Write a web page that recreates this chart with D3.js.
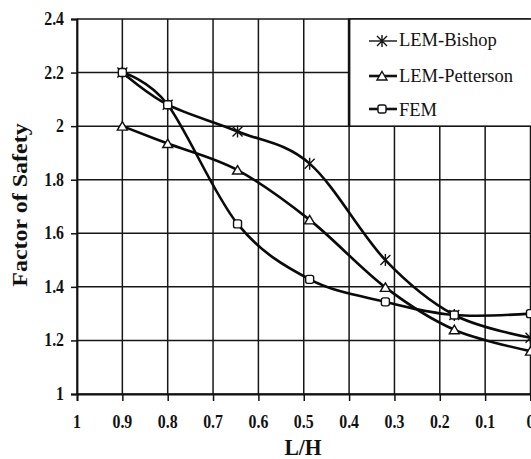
<!DOCTYPE html>
<html>
<head>
<meta charset="utf-8">
<script src="https://cdn.jsdelivr.net/npm/d3@7/dist/d3.min.js"></script>
<style>
  html, body { margin: 0; padding: 0; background: #fff; overflow: hidden; }
  svg { display: block; }
</style>
</head>
<body>
<svg id="chart" width="531" height="459" font-family="'Liberation Serif', 'Times New Roman', 'DejaVu Serif', serif"></svg>
<script>
// Slope factor of safety against the ratio L/H
const lhValues = [0.9, 0.8, 0.646, 0.487, 0.32, 0.168, 0];
const bishop = [2.20, 2.08, 1.98, 1.86, 1.50, 1.295, 1.21];
const petterson = [2.00, 1.935, 1.836, 1.65, 1.398, 1.24, 1.16];
const fem = [2.20, 2.08, 1.635, 1.428, 1.344, 1.295, 1.30];

const xTicks = [1, 0.9, 0.8, 0.7, 0.6, 0.5, 0.4, 0.3, 0.2, 0.1, 0];
const yTicks = [1, 1.2, 1.4, 1.6, 1.8, 2, 2.2, 2.4];

const seriesNames = ["LEM-Bishop", "LEM-Petterson", "FEM"];
const seriesValues = [bishop, petterson, fem];
const seriesMarkers = ["asterisk", "triangle", "square"];

const FONT = "'Liberation Serif', 'Times New Roman', 'DejaVu Serif', serif";

const svg = d3.select("#chart");
const x = d3.scaleLinear().domain([1, 0]).range([77, 530.5]);
const y = d3.scaleLinear().domain([1, 2.4]).range([394, 19]);
const fmt = d => String(d);

// grid
const grid = svg.append("g").attr("stroke", "#161616").attr("stroke-width", 1.5);
grid.selectAll("line.v").data(xTicks).join("line")
  .attr("x1", d => x(d)).attr("x2", d => x(d))
  .attr("y1", y(2.4)).attr("y2", y(1));
grid.selectAll("line.h").data(yTicks).join("line")
  .attr("x1", x(1)).attr("x2", x(0))
  .attr("y1", d => y(d)).attr("y2", d => y(d));

// axes with outward ticks
const xAxis = svg.append("g").attr("transform", `translate(0,${y(1)})`)
  .call(d3.axisBottom(x).tickValues(xTicks).tickSize(7).tickFormat(""));
const yAxis = svg.append("g").attr("transform", `translate(${x(1)},0)`)
  .call(d3.axisLeft(y).tickValues(yTicks).tickSize(6).tickFormat(""));
[xAxis, yAxis].forEach(a => {
  a.select(".domain").attr("stroke", "#111").attr("stroke-width", 1.8);
  a.selectAll(".tick line").attr("stroke", "#111").attr("stroke-width", 1.5);
});

// tick labels
svg.append("g").selectAll("text").data(xTicks).join("text")
  .attr("transform", d => `translate(${x(d)},428) scale(0.88,1)`)
  .attr("text-anchor", "middle")
  .attr("font-family", FONT).attr("fill", "#111")
  .attr("font-size", 18).attr("font-weight", "bold")
  .text(fmt);
svg.append("g").selectAll("text").data(yTicks).join("text")
  .attr("transform", d => `translate(64,${y(d) + 6}) scale(0.88,1)`)
  .attr("text-anchor", "end")
  .attr("font-family", FONT).attr("fill", "#111")
  .attr("font-size", 18).attr("font-weight", "bold")
  .text(fmt);

// axis titles
svg.append("text")
  .attr("transform", "translate(303,455) scale(0.9,1)")
  .attr("text-anchor", "middle")
  .attr("font-family", FONT).attr("fill", "#111")
  .attr("font-size", 24).attr("font-weight", "bold")
  .text("L/H");
svg.append("text")
  .attr("transform", "translate(27,205) rotate(-90) scale(1,0.85)")
  .attr("text-anchor", "middle")
  .attr("font-family", FONT).attr("fill", "#111")
  .attr("font-size", 24).attr("font-weight", "bold")
  .text("Factor of Safety");

// marker shapes
function drawMarker(g, type) {
  if (type === "asterisk") {
    g.append("path")
      .attr("d", "M0,-6V6M-5,-5L5,5M-5,5L5,-5")
      .attr("stroke", "#111").attr("stroke-width", 1.4).attr("fill", "none");
  } else if (type === "triangle") {
    g.append("path")
      .attr("d", "M0,-4.5L5,4L-5,4Z")
      .attr("stroke", "#111").attr("stroke-width", 1.4).attr("fill", "#fff");
  } else {
    g.append("rect")
      .attr("x", -4).attr("y", -4).attr("width", 8).attr("height", 8).attr("rx", 2)
      .attr("stroke", "#111").attr("stroke-width", 1.4).attr("fill", "#fff");
  }
}

// series lines
const line = d3.line()
  .x((d, i) => x(lhValues[i]))
  .y(d => y(d))
  .curve(d3.curveCatmullRom.alpha(0));

seriesValues.forEach(vals => {
  svg.append("path").datum(vals)
    .attr("d", line)
    .attr("fill", "none").attr("stroke", "#0a0a0a").attr("stroke-width", 2.6);
});
seriesValues.forEach((vals, s) => {
  vals.forEach((v, i) => {
    const g = svg.append("g").attr("transform", `translate(${x(lhValues[i])},${y(v)})`);
    drawMarker(g, seriesMarkers[s]);
  });
});

// legend
const legend = svg.append("g");
legend.append("rect")
  .attr("x", x(0.4)).attr("y", y(2.4))
  .attr("width", 200).attr("height", y(2) - y(2.4))
  .attr("fill", "#fff").attr("stroke", "#111").attr("stroke-width", 1.5);
legend.append("line")
  .attr("x1", x(0.4)).attr("x2", x(0.4)).attr("y1", y(2.4)).attr("y2", y(2))
  .attr("stroke", "#111").attr("stroke-width", 2.6);
const rowY = [41, 76, 109];
const textY = [46, 82, 116];
seriesNames.forEach((name, s) => {
  legend.append("line")
    .attr("x1", 369).attr("x2", 397).attr("y1", rowY[s]).attr("y2", rowY[s])
    .attr("stroke", "#111").attr("stroke-width", s === 0 ? 1.4 : 2.6);
  const g = legend.append("g").attr("transform", `translate(382,${rowY[s]})`);
  drawMarker(g, seriesMarkers[s]);
  legend.append("text")
    .attr("x", 399).attr("y", textY[s])
    .attr("font-family", FONT).attr("fill", "#111")
    .attr("font-size", 18.5)
    .text(name);
});
</script>
</body>
</html>
